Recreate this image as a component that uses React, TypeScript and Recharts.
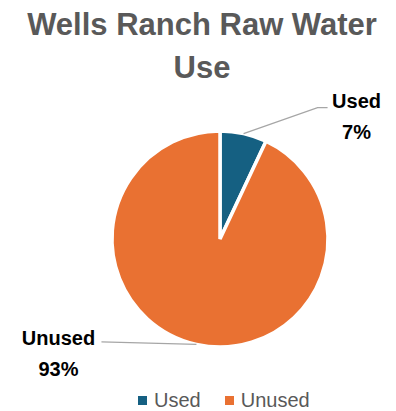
import React from 'react';
import { PieChart, Pie, Cell, Legend } from 'recharts';

const categories = ['Used', 'Unused'];
const shares = [7, 93];
const sliceColors = ['#156082', '#E97132'];

const data = categories.map((name, i) => ({ name, value: shares[i] }));

const FONT = "'Liberation Sans', Arial, sans-serif";

const RADIAN = Math.PI / 180;

const renderLabel = (props: any) => {
  const { cx, cy, midAngle, outerRadius, index, name, percent } = props;
  const sx = cx + outerRadius * Math.cos(-midAngle * RADIAN);
  const sy = cy + outerRadius * Math.sin(-midAngle * RADIAN);
  const pct = `${Math.round(percent * 100)}%`;
  if (index === 0) {
    const mx = sx + 74;
    const my = sy - 26;
    const ex = mx + 10;
    const tx = ex + 29;
    return (
      <g>
        <polyline points={`${sx},${sy} ${mx},${my} ${ex},${my}`} fill="none" stroke="#A6A6A6" strokeWidth={1.3} />
        <text x={tx} y={my + 0.5} textAnchor="middle" fill="#000" fontSize={20} fontWeight={700} fontFamily={FONT}>
          <tspan x={tx} dy={0}>{name}</tspan>
          <tspan x={tx} dy={31}>{pct}</tspan>
        </text>
      </g>
    );
  }
  const ex = sx - 95;
  const ey = sy - 2.5;
  const tx = ex - 43;
  return (
    <g>
      <line x1={sx} y1={sy} x2={ex} y2={ey} stroke="#A6A6A6" strokeWidth={1.3} />
      <text x={tx} y={ey + 3} textAnchor="middle" fill="#000" fontSize={20} fontWeight={700} fontFamily={FONT}>
        <tspan x={tx} dy={0}>{name}</tspan>
        <tspan x={tx} dy={31}>{pct}</tspan>
      </text>
    </g>
  );
};

const LegendContent = () => (
  <div style={{ display: 'flex', alignItems: 'center', fontFamily: FONT, fontSize: 20, color: '#595959', lineHeight: '24px' }}>
    {categories.map((name, i) => (
      <div key={name} style={{ display: 'flex', alignItems: 'center', marginRight: i === 0 ? 24 : 0 }}>
        <span style={{ display: 'inline-block', width: 9, height: 9, background: sliceColors[i], marginRight: 7 }} />
        <span>{name}</span>
      </div>
    ))}
  </div>
);

export default function App() {
  return (
    <div style={{ position: 'absolute', left: 0, top: 0, width: 396, height: 411, background: '#fff', fontFamily: FONT }}>
      <div
        style={{
          position: 'absolute',
          left: 0,
          top: 3,
          width: 396,
          textAlign: 'center',
          fontSize: 31,
          fontWeight: 700,
          color: '#595959',
          lineHeight: '43px',
          paddingLeft: 8,
          boxSizing: 'border-box',
        }}
      >
        Wells Ranch Raw Water
        <br />
        Use
      </div>
      <PieChart width={396} height={411} margin={{ top: 0, right: 0, bottom: 0, left: 0 }}>
        <Pie
          data={data}
          dataKey="value"
          nameKey="name"
          cx={220}
          cy={239}
          outerRadius={108}
          startAngle={90}
          endAngle={-270}
          stroke="#fff"
          strokeWidth={3.5}
          label={renderLabel}
          labelLine={false}
          isAnimationActive={false}
        >
          {data.map((d, i) => (
            <Cell key={d.name} fill={sliceColors[i]} />
          ))}
        </Pie>
        <Legend
          content={<LegendContent />}
          wrapperStyle={{ left: 138, top: 388, width: 'auto' }}
        />
      </PieChart>
    </div>
  );
}
